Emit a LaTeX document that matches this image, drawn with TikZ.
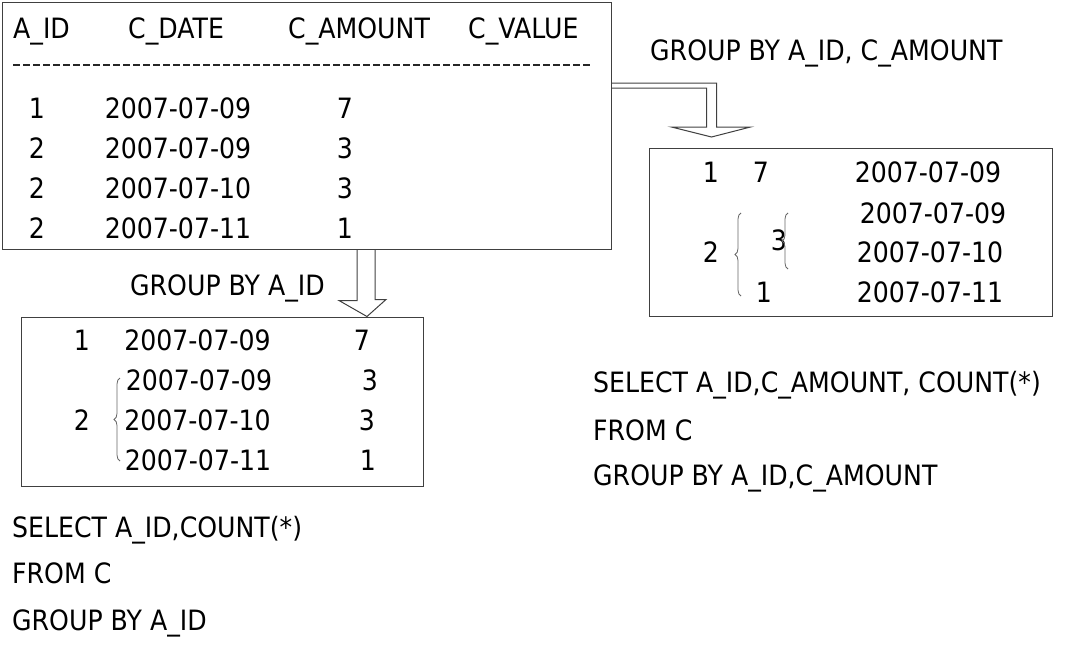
\documentclass[tikz,border=0pt]{standalone}
\usepackage{fontspec}
\setmainfont{DejaVu Sans}[FakeStretch=0.9]
\usetikzlibrary{decorations.pathreplacing}
\begin{document}
\begin{tikzpicture}[x=1pt,y=-1pt]

\tikzstyle{tabbox} = [rectangle, draw=black!75, line width=1pt, inner sep=0pt]
\tikzstyle{txt} = [inner sep=0pt, text height=20.4pt, text depth=0pt, font=\fsize]
\tikzstyle{hollow} = [draw=black!75, line width=1pt]
\tikzstyle{curly} = [decorate, decoration={brace,amplitude=6pt}, draw=black!60, line width=0.8pt]

\def \fsize{\fontsize{28}{34}\selectfont}

\useasboundingbox (0,0) rectangle (1073,654);

%Table C
\node[tabbox, minimum width=609pt, minimum height=247pt](tbl) at (306.5,125.5){};
\node[txt,anchor=west](hid) at (13,28){A\_ID};
\node[txt,anchor=west](hdate) at (128,28){C\_DATE};
\node[txt,anchor=west](hamt) at (288,28){C\_AMOUNT};
\node[txt,anchor=west](hval) at (468,28){C\_VALUE};
\draw[black!85, line width=1.6pt, dash pattern=on 7pt off 3pt] (13,65) -- (590,65);

\node[txt](r1id) at (37,108){1};
\node[txt](r2id) at (37,148){2};
\node[txt](r3id) at (37,188){2};
\node[txt](r4id) at (37,228){2};
\node[txt](r1date) at (178,108){2007-07-09};
\node[txt](r2date) at (178,148){2007-07-09};
\node[txt](r3date) at (178,188){2007-07-10};
\node[txt](r4date) at (178,228){2007-07-11};
\node[txt](r1amt) at (345,108){7};
\node[txt](r2amt) at (345,148){3};
\node[txt](r3amt) at (345,188){3};
\node[txt](r4amt) at (345,228){1};

%Group by A_ID, C_AMOUNT
\node[txt,anchor=west](gcap2) at (650,50){GROUP BY A\_ID, C\_AMOUNT};
\node[tabbox, minimum width=403pt, minimum height=168pt](grp2) at (850.5,232){};
\draw[hollow] (tbl.east |- 0,83) -- ++(105,0) -- ++(0,44) -- ++(34,0) -- ++(-39,10)
  -- ++(-40,-10) -- ++(35,0) -- ++(0,-39) -- (tbl.east |- 0,88);

\node[txt](g2id1) at (711,172){1};
\node[txt](g2amt1) at (761,172){7};
\node[txt](g2d1) at (928,172){2007-07-09};
\node[txt](g2d2) at (933,213){2007-07-09};
\node[txt](g2d3) at (930,252){2007-07-10};
\node[txt](g2d4) at (930,292){2007-07-11};
\node[txt](g2id2) at (711,252){2};
\node[txt](g2amt3) at (779,240){3};
\node[txt](g2amt2) at (764,292){1};
\draw[curly] (741,296) -- (741,213);
\draw[curly] (788,269) -- (788,213);

%Group by A_ID
\node[txt,anchor=west](gcap1) at (130,285){GROUP BY A\_ID};
\node[tabbox, minimum width=402pt, minimum height=169pt](grp1) at (222,401.5){};
\draw[hollow] (tbl.south -| 357,0) -- ++(0,51) -- ++(-18,0) -- (grp1.north -| 367,0)
  -- ++(19,-17) -- ++(-11,0) -- (tbl.south -| 375,0);

\node[txt](g1id1) at (82,340){1};
\node[txt](g1id2) at (82,420){2};
\node[txt](g1d1) at (197.5,340){2007-07-09};
\node[txt](g1d2) at (199,380){2007-07-09};
\node[txt](g1d3) at (197.5,420){2007-07-10};
\node[txt](g1d4) at (198,460){2007-07-11};
\node[txt](g1a1) at (362,340){7};
\node[txt](g1a2) at (370,380){3};
\node[txt](g1a3) at (367,420){3};
\node[txt](g1a4) at (368,460){1};
\draw[curly] (120,461) -- (120,378);

%Queries
\node[txt,anchor=west](q2a) at (593,382){SELECT A\_ID,C\_AMOUNT, COUNT(*)};
\node[txt,anchor=west](q2b) at (593,430){FROM C};
\node[txt,anchor=west](q2c) at (593,475){GROUP BY A\_ID,C\_AMOUNT};
\node[txt,anchor=west](q1a) at (12,527){SELECT A\_ID,COUNT(*)};
\node[txt,anchor=west](q1b) at (12,573){FROM C};
\node[txt,anchor=west](q1c) at (12,620){GROUP BY A\_ID};

\end{tikzpicture}
\end{document}
